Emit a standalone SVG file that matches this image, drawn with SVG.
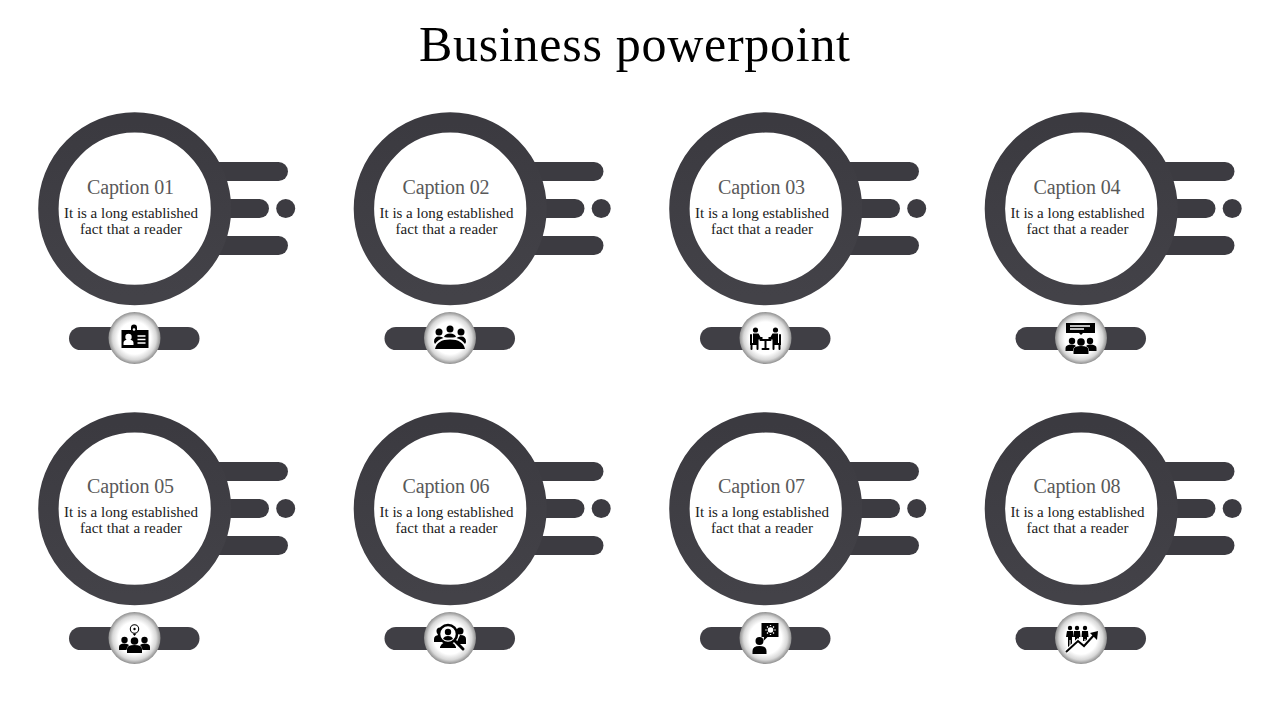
<svg xmlns="http://www.w3.org/2000/svg" width="1280" height="720" viewBox="0 0 1280 720">
<style>
text{font-family:"Liberation Serif","Times New Roman",serif;text-anchor:middle}
.title{font-size:50px;fill:#000}
.cap{font-size:20px;fill:#595959}
.body{font-size:15px;fill:#1a1a1a}
.k{fill:#000}.w{fill:#fff}
.ks{fill:none;stroke:#000;stroke-width:2;stroke-linecap:round}
.ws{fill:none;stroke:#fff;stroke-width:1.3}
</style>
<defs>
<linearGradient id="dark" x1="0" y1="0" x2="0" y2="1"><stop offset="0" stop-color="#3b3a40"/><stop offset="1" stop-color="#434248"/></linearGradient>
<radialGradient id="badge" cx=".5" cy=".5" r=".5"><stop offset="0" stop-color="#fff"/><stop offset=".62" stop-color="#fff"/><stop offset=".84" stop-color="#d8d8d8"/><stop offset="1" stop-color="#8f8f8f"/></radialGradient>
<g id="unit">
<rect x="200" y="162" width="88" height="19" rx="9.5" fill="#3c3b41"/>
<rect x="200" y="199" width="69" height="19" rx="9.5" fill="#3c3b41"/>
<rect x="200" y="236" width="88" height="19" rx="9.5" fill="#3c3b41"/>
<circle cx="285.7" cy="208.5" r="9.5" fill="#3c3b41"/>
<circle cx="134.700" cy="208.7" r="86.3" fill="#fff" stroke="url(#dark)" stroke-width="20.4"/>
<rect x="69" y="327" width="130.500" height="23" rx="11.5" fill="#403f45"/>
<circle cx="134.5" cy="338" r="26" fill="url(#badge)"/>
</g>
</defs>
<text class="title" x="634.500" y="61" textLength="431" lengthAdjust="spacing">Business powerpoint</text>
<g id="node-1"><use href="#unit"/>
<text class="cap" x="130.5" y="193.5" textLength="87">Caption 01</text>
<text class="body" x="131" y="218" textLength="134">It is a long established</text>
<text class="body" x="131" y="234" textLength="102">fact that a reader</text>
<g transform="translate(134.5 338)">
<path class="k" d="M-13-8H-3.5V-10.5a3 3 0 0 1 6 0V-8H14V10H-13Z"/><circle class="w" cx="-.5" cy="-8.5" r="1.3"/>
<circle class="w" cx="-6" cy="-1" r="3.2"/><path class="w" d="M-11 7V5q0-3.5 5-3.500T-1 5V7Z"/>
<path class="ws" d="M3-2H11M3 1.5H11M3 5H11"/>
</g></g>
<g id="node-2" transform="translate(315.5 0)"><use href="#unit"/>
<text class="cap" x="130.5" y="193.5" textLength="87">Caption 02</text>
<text class="body" x="131" y="218" textLength="134">It is a long established</text>
<text class="body" x="131" y="234" textLength="102">fact that a reader</text>
<g transform="translate(134.5 338)">
<circle class="k" cx="-11" cy="-6" r="3.5"/><circle class="k" cx="0" cy="-9" r="3.5"/><circle class="k" cx="11" cy="-6" r="3.5"/>
<path class="k" d="M-15 11Q-13 1.500 0 1.500T15 11Z"/>
<path class="k" d="M-16 4Q-16-1.500-11-1.500-8-1.500-6.500 0-12 1.500-15 6Z"/><path class="k" d="M16 4Q16-1.500 11-1.500 8-1.500 6.500 0 12 1.500 15 6Z"/>
<path class="k" d="M-6-1Q-5-4.500 0-4.500T6-1Q3-.5 0-.5T-6-1Z"/>
</g></g>
<g id="node-3" transform="translate(631 0)"><use href="#unit"/>
<text class="cap" x="130.5" y="193.5" textLength="87">Caption 03</text>
<text class="body" x="131" y="218" textLength="134">It is a long established</text>
<text class="body" x="131" y="234" textLength="102">fact that a reader</text>
<g transform="translate(134.5 338)">
<circle class="k" cx="-10" cy="-8" r="2.600"/><circle class="k" cx="10" cy="-8" r="2.600"/>
<path class="k" d="M-12.500-4.500H-7L-5-1H-3V1.500H-7V5H-12.500Z"/><path class="k" d="M12.500-4.500H7L5-1H3V1.500H7V5H12.500Z"/>
<path class="ks" d="M-14.500-3V6H-8V11M-14 6V11M14.500-3V6H8V11M14 6V11M-5 2H5M0 2V10.500M-3 11H3"/>
</g></g>
<g id="node-4" transform="translate(946.500 0)"><use href="#unit"/>
<text class="cap" x="130.5" y="193.5" textLength="87">Caption 04</text>
<text class="body" x="131" y="218" textLength="134">It is a long established</text>
<text class="body" x="131" y="234" textLength="102">fact that a reader</text>
<g transform="translate(134.5 338)">
<path class="k" d="M-15-15H14V-5H2L0-3-2-5H-15Z"/>
<path class="ws" d="M-11-12H9M-11-9H3"/>
<circle class="k" cx="-9" cy="3" r="3.200"/><circle class="k" cx="9" cy="3" r="3.200"/><circle class="k" cx="0" cy="4" r="3.800"/>
<path class="k" d="M-15.500 13V10Q-15.500 6.500-9 6.500-6 6.500-5 8-8 9.500-8 13Z"/><path class="k" d="M15.500 13V10Q15.500 6.500 9 6.500 6 6.500 5 8 8 9.500 8 13Z"/>
<path class="k" d="M-7.500 16V12Q-7.500 8 0 8T7.500 12V16Z"/>
</g></g>
<g id="node-5" transform="translate(0 300)"><use href="#unit"/>
<text class="cap" x="130.5" y="192.500" textLength="87">Caption 05</text>
<text class="body" x="131" y="217" textLength="134">It is a long established</text>
<text class="body" x="131" y="233" textLength="102">fact that a reader</text>
<g transform="translate(134.5 338)">
<circle cx="0" cy="-9" r="4.200" fill="none" stroke="#000" stroke-width="1.1"/><path d="M-2-4.500L0-2 2-4.500Z" class="k"/><circle class="k" cx="0" cy="-9" r="1.200"/>
<circle class="k" cx="-10" cy="2" r="3.200"/><circle class="k" cx="10" cy="2" r="3.200"/><circle class="k" cx="0" cy="3" r="3.800"/>
<path class="k" d="M-15.500 12V9Q-15.500 5.500-10 5.500-7 5.500-5.500 7-8 9-8 12Z"/><path class="k" d="M15.500 12V9Q15.500 5.500 10 5.500 7 5.500 5.500 7 8 9 8 12Z"/>
<path class="k" d="M-7.500 15V11Q-7.500 7 0 7T7.500 11V15Z"/>
</g></g>
<g id="node-6" transform="translate(315.5 300)"><use href="#unit"/>
<text class="cap" x="130.5" y="192.500" textLength="87">Caption 06</text>
<text class="body" x="131" y="217" textLength="134">It is a long established</text>
<text class="body" x="131" y="233" textLength="102">fact that a reader</text>
<g transform="translate(134.5 338)">
<circle class="k" cx="-10" cy="-7" r="3.500"/><circle class="k" cx="10" cy="-7" r="3.500"/>
<path class="k" d="M-16 4V1Q-16-3-10-3L-8 4ZM16 6V1Q16-3 10-3L6 6Z"/>
<path class="k" d="M-10 10V9Q-8 4-2 4T6 9V10Z"/>
<circle cx="-2" cy="-4" r="9" fill="#fff" stroke="#000" stroke-width="2.600"/>
<circle class="k" cx="-2" cy="-6" r="3.200"/><path class="k" d="M-7 1Q-6-2-2-2T3 1Q0 2.500-2 2.500T-7 1Z"/>
<path d="M5 3L13 11" stroke="#000" stroke-width="3" stroke-linecap="round"/>
</g></g>
<g id="node-7" transform="translate(631 300)"><use href="#unit"/>
<text class="cap" x="130.5" y="192.500" textLength="87">Caption 07</text>
<text class="body" x="131" y="217" textLength="134">It is a long established</text>
<text class="body" x="131" y="233" textLength="102">fact that a reader</text>
<g transform="translate(134.5 338)">
<path class="k" d="M-4-15H13V-1H2L-2 3-1.500-1H-4Z"/>
<circle class="w" cx="5" cy="-8" r="2.800"/><path class="ws" d="M5-13V-12M5-4V-3M0-8H1M9-8H10M1.500-11.500L2.500-10.500M8.500-11.500L7.500-10.500M1.500-4.500L2.500-5.500M8.500-4.500L7.500-5.500"/>
<circle class="k" cx="-6" cy="3" r="4"/><path class="k" d="M-13 16V13Q-13 8-6 8T1 13V16Z"/>
</g></g>
<g id="node-8" transform="translate(946.500 300)"><use href="#unit"/>
<text class="cap" x="130.5" y="192.500" textLength="87">Caption 08</text>
<text class="body" x="131" y="217" textLength="134">It is a long established</text>
<text class="body" x="131" y="233" textLength="102">fact that a reader</text>
<g transform="translate(134.5 338)">
<circle class="k" cx="-11" cy="-10" r="2.200"/><circle class="k" cx="-4" cy="-10" r="2.200"/><circle class="k" cx="4" cy="-10" r="2.200"/>
<path class="k" d="M-14-7H-8L-7.500-1H-9V7H-10.500V2H-11.500V9H-13V-1H-15ZM-7-7H-1L-.5-1H-2V4H-3.500V1H-4.500V6H-6V-1H-7.500ZM1-7H7L7.500-1H6V3H4.500V1H3.500V3H2V-1H.5Z"/>
<path d="M-15 14L-3 3 3 8 14-4" fill="none" stroke="#fff" stroke-width="4.500"/>
<path d="M-15 14L-3 3 3 8 14-4" fill="none" stroke="#000" stroke-width="2"/>
<path class="k" d="M9-5L17-7 16 2Z"/>
</g></g>
</svg>
